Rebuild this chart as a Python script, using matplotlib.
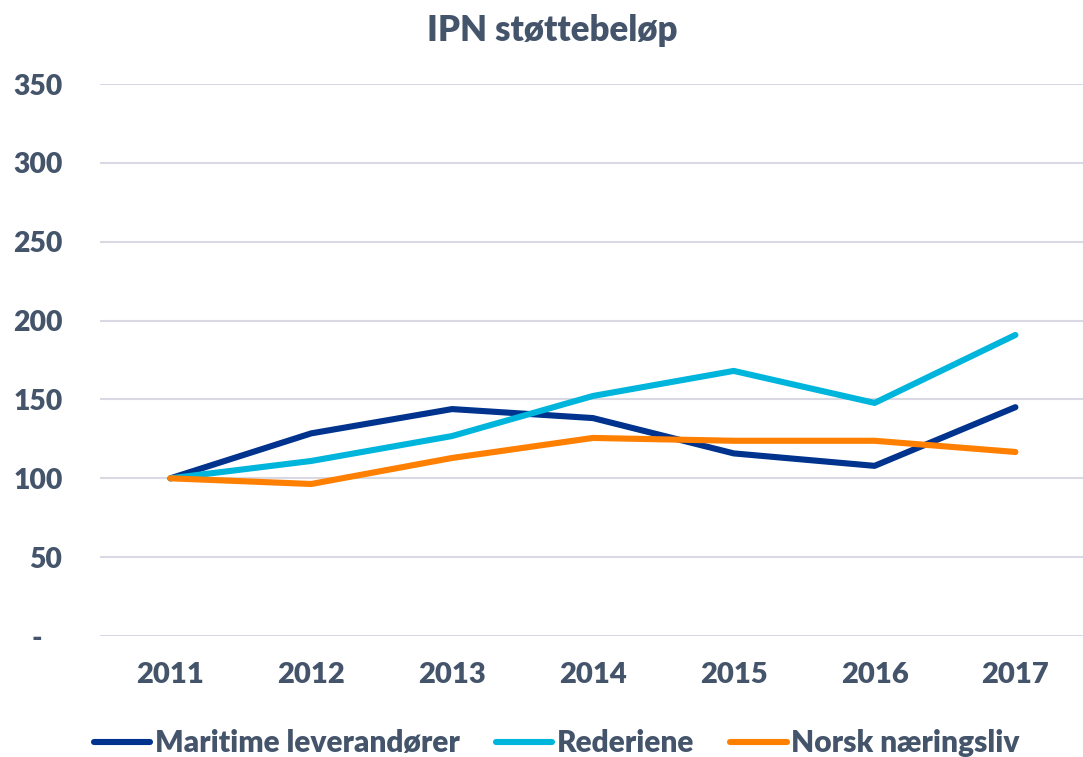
import matplotlib.pyplot as plt

years = ["2011", "2012", "2013", "2014", "2015", "2016", "2017"]
maritime = [100, 128.5, 143.9, 138.2, 115.8, 107.9, 145.1]
rederiene = [100, 111.0, 126.8, 152.2, 168.1, 147.8, 190.9]
norsk = [100, 96.4, 112.9, 125.6, 123.8, 123.8, 116.7]
yticks = [0, 50, 100, 150, 200, 250, 300, 350]
ytick_labels = ["-   ", "50", "100", "150", "200", "250", "300", "350"]

txt = "#44546A"
plt.rcParams['font.family'] = ['Lato', 'DejaVu Sans']
plt.rcParams['font.weight'] = 'heavy'

fig = plt.figure(figsize=(10.83, 7.57), dpi=100)
ax = fig.add_axes([0.0923, 0.1598, 0.9077, 0.7292])

x = range(len(years))
ax.plot(x, maritime, color="#00338D", lw=4.4, solid_capstyle='round',
        solid_joinstyle='round', label="Maritime leverandører", zorder=3)
ax.plot(x, rederiene, color="#00B5DC", lw=4.4, solid_capstyle='round',
        solid_joinstyle='round', label="Rederiene", zorder=3)
ax.plot(x, norsk, color="#FF7F00", lw=4.4, solid_capstyle='round',
        solid_joinstyle='round', label="Norsk næringsliv", zorder=3)

ax.set_xlim(-0.5, 6.48)
ax.set_ylim(0, 350)
ax.set_yticks(yticks)
ax.set_yticklabels(ytick_labels)
ax.set_xticks(list(x))
ax.set_xticklabels(years)
ax.grid(axis='y', color="#D9D9E3", lw=1.5, zorder=0)
ax.tick_params(axis='y', length=0, labelsize=20.4, labelcolor=txt, pad=27)
ax.tick_params(axis='x', length=0, labelsize=21, labelcolor=txt, pad=19)
for s in ax.spines.values():
    s.set_visible(False)

fig.text(0.51, 0.982, "IPN støttebeløp", ha='center', va='top',
         fontsize=25, color=txt, fontweight='heavy')

leg = fig.legend(loc='lower center', bbox_to_anchor=(0.514, -0.036), ncol=3,
                 frameon=False, fontsize=21.5, handlelength=1.9,
                 handletextpad=0.15, columnspacing=1.2)
for t in leg.get_texts():
    t.set_color(txt)

fig.savefig("out.png", dpi=100)
